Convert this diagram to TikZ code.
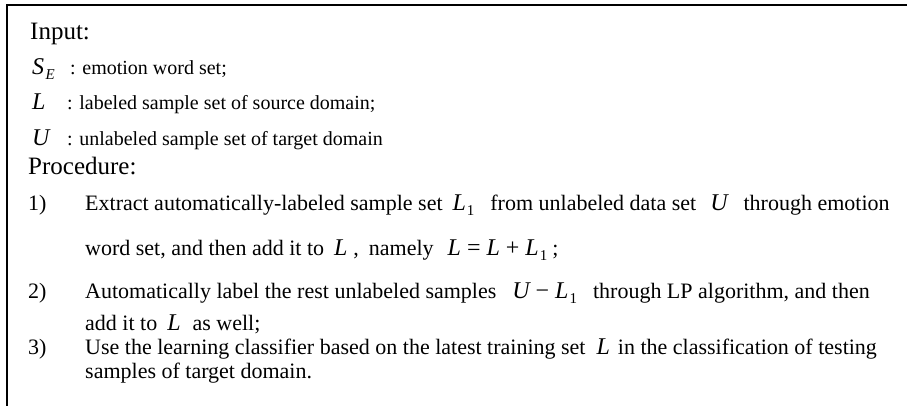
\documentclass[tikz,border=0pt]{standalone}
\usepackage{fontspec}
\setmainfont{Liberation Serif}
\newcommand{\mv}[1]{{\fontsize{24}{24}\selectfont\itshape #1}}
\newcommand{\mop}[1]{{\fontsize{24}{24}\selectfont #1}}
\newcommand{\sbs}[1]{\raisebox{-5pt}{\fontsize{15}{15}\selectfont #1}}
\newcommand{\Lone}{\mv{L}\kern1pt\sbs{1}}
\newcommand{\SE}{\mv{S}\kern1.5pt\sbs{\itshape E}}
\begin{document}
\begin{tikzpicture}[x=1pt,y=-1pt,
  ttl/.style={anchor=base west,inner sep=0pt,font=\fontsize{25}{28}\selectfont},
  inp/.style={anchor=base west,inner sep=0pt,font=\fontsize{20}{24}\selectfont},
  txt/.style={anchor=base west,inner sep=0pt,font=\fontsize{22}{24}\selectfont},
  frame/.style={line width=2pt,line cap=rect,line join=miter}]
\useasboundingbox (0,0) rectangle (907,406);
\coordinate (tr) at (907,5);
\coordinate (tl) at (7,5);
\coordinate (bl) at (7,406);
\draw[frame] (tr) -- (tl) -- (bl);
% Input section
\node[ttl] (input) at (30,40) {Input:};
\node[inp] (se) at (32,75) {\SE};
\node[inp] (sedesc) at (70,75) {: emotion word set;};
\node[inp] (lv) at (32,110) {\mv{L}};
\node[inp] (ldesc) at (67,110) {: labeled sample set of source domain;};
\node[inp] (uv) at (32,146) {\mv{U}};
\node[inp] (udesc) at (67,146) {: unlabeled sample set of target domain};
% Procedure
\node[ttl] (proc) at (28,175) {Procedure:};
\node[txt] (n1) at (28,211) {1)};
\node[txt] (s1a) at (85,211) {Extract automatically-labeled sample set\hspace{10pt}\Lone\hspace{16pt}from unlabeled data set\hspace{14pt}\mv{U}\hspace{16pt}through emotion};
\node[txt] (s1b) at (85,255) {word set, and then add it to\hspace{10pt}\mv{L}\hspace{6pt},\hspace{10pt}namely\hspace{14pt}\mv{L}\hspace{6pt}\mop{=}\hspace{6pt}\mv{L}\hspace{6pt}\mop{+}\hspace{6pt}\Lone\hspace{5pt};};
\node[txt] (n2) at (28,298) {2)};
\node[txt] (s2a) at (85,298) {Automatically label the rest unlabeled samples\hspace{16pt}\mv{U}\hspace{6pt}\mop{−}\hspace{6pt}\Lone\hspace{16pt}through LP algorithm, and then};
\node[txt] (s2b) at (85,330) {add it to\hspace{10pt}\mv{L}\hspace{12pt}as well;};
\node[txt] (n3) at (28,354) {3)};
\node[txt] (s3a) at (85,354) {Use the learning classifier based on the latest training set\hspace{11pt}\mv{L}\hspace{8pt}in the classification of testing};
\node[txt] (s3b) at (85,378) {samples of target domain.};
\end{tikzpicture}
\end{document}
